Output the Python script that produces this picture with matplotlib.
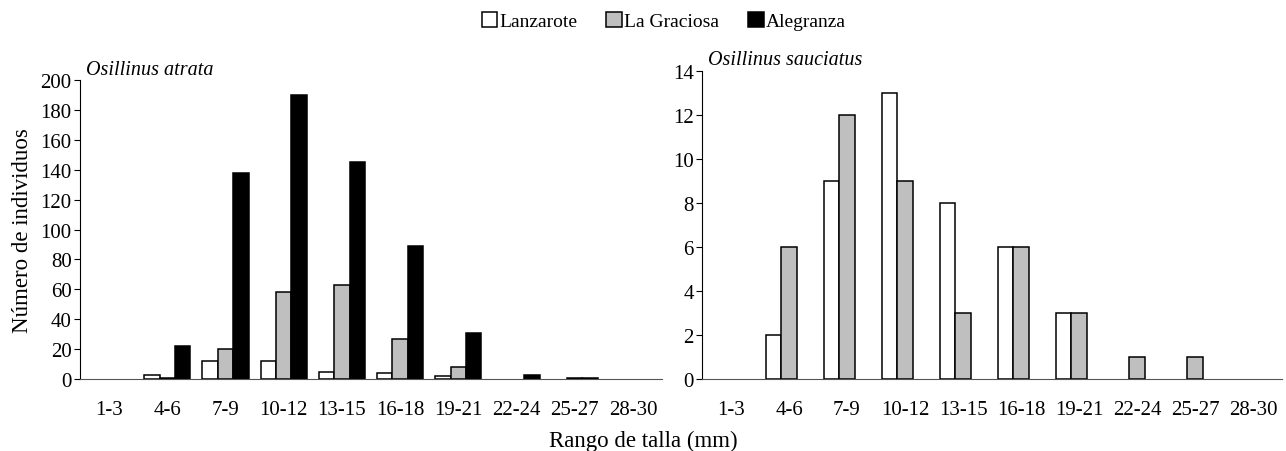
import matplotlib.pyplot as plt
import numpy as np
from matplotlib.patches import Patch

plt.rcParams['font.family'] = ['Liberation Serif', 'DejaVu Serif']

# Size classes (mm)
categories = ["1-3", "4-6", "7-9", "10-12", "13-15", "16-18", "19-21", "22-24", "25-27", "28-30"]

# Osillinus atrata
atrata_lanzarote = [0, 3, 12, 12, 5, 4, 2, 0, 0, 0]
atrata_graciosa = [0, 1, 20, 58, 63, 27, 8, 0, 1, 0]
atrata_alegranza = [0, 22, 138, 190, 145, 89, 31, 3, 1, 0]

# Osillinus sauciatus
sauciatus_lanzarote = [0, 2, 9, 13, 8, 6, 3, 0, 0, 0]
sauciatus_graciosa = [0, 6, 12, 9, 3, 6, 3, 1, 1, 0]
sauciatus_alegranza = [0, 0, 0, 0, 0, 0, 0, 0, 0, 0]

series_names = ["Lanzarote", "La Graciosa", "Alegranza"]
colors = ["white", "#bfbfbf", "black"]

fig = plt.figure(figsize=(12.86, 4.52), dpi=100)
ax1 = fig.add_axes([80 / 1286, 72 / 452, 582 / 1286, 299 / 452])
ax2 = fig.add_axes([702 / 1286, 72 / 452, 580 / 1286, 308 / 452])

x = np.arange(len(categories))
w = 0.265


def draw(ax, data, ymax, step, title):
    for i, (vals, c) in enumerate(zip(data, colors)):
        vals = np.array(vals, dtype=float)
        keep = vals > 0  # empty classes have no bar
        ax.bar(x[keep] + (i - 1) * w, vals[keep], w, color=c, edgecolor="black", linewidth=1.1)
    ax.set_xlim(-0.5, len(categories) - 0.5)
    ax.set_ylim(0, ymax)
    ax.set_yticks(np.arange(0, ymax + 1, step))
    ax.set_xticks(x)
    ax.set_xticklabels(categories)
    ax.tick_params(axis="x", length=0, pad=15, labelsize=15)
    ax.tick_params(axis="y", length=4, direction="out", labelsize=15, pad=2)
    ax.spines["top"].set_visible(False)
    ax.spines["right"].set_visible(False)
    ax.spines["bottom"].set_color("#555555")
    ax.text(0.01, 1.005, title, transform=ax.transAxes, style="italic",
            fontsize=14.5, ha="left", va="bottom")


draw(ax1, [atrata_lanzarote, atrata_graciosa, atrata_alegranza], 200, 20, "Osillinus atrata")
draw(ax2, [sauciatus_lanzarote, sauciatus_graciosa, sauciatus_alegranza], 14, 2, "Osillinus sauciatus")

ax1.set_ylabel("Número de individuos", fontsize=16.5, labelpad=5)
fig.text(0.5, 0.0, "Rango de talla (mm)", ha="center", va="bottom", fontsize=16.5)

handles = [Patch(facecolor=c, edgecolor="black", linewidth=1.1) for c in colors]
fig.legend(handles, series_names, loc="upper center", bbox_to_anchor=(0.516, 1.01),
           ncol=3, frameon=False, fontsize=14, handlelength=0.8, handleheight=0.8,
           handletextpad=0.1, columnspacing=1.5)

fig.savefig("out.png", dpi=100)
